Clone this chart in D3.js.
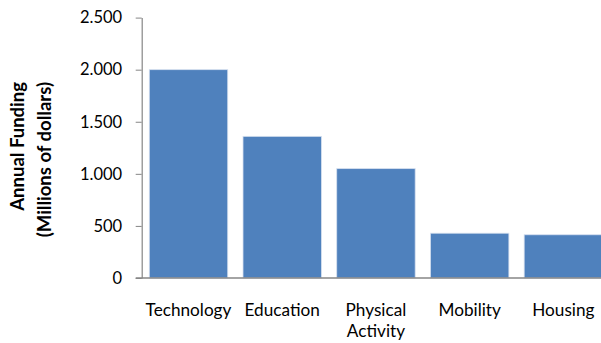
<!DOCTYPE html>
<html>
<head>
<meta charset="utf-8">
<script src="https://cdn.jsdelivr.net/npm/d3@7"></script>
<style>
  html, body { margin: 0; padding: 0; background: #fff; }
  svg { display: block; }
  text { font-family: Lato, "Open Sans", sans-serif; fill: #000; }
</style>
</head>
<body>
<svg id="chart" width="601" height="343"></svg>
<script>
// Annual funding by program area (millions of dollars)
const categories = ["Technology", "Education", "Physical Activity", "Mobility", "Housing"];
const funding = [2000, 1360, 1050, 430, 415];
const yTicks = [0, 500, 1000, 1500, 2000, 2500];

const svg = d3.select("#chart");
const plotLeft = 141.7, plotRight = 610.2, plotTop = 17.6, plotBottom = 278;

const x = d3.scaleBand()
  .domain(categories)
  .range([plotLeft, plotRight])
  .paddingInner(0.163)
  .paddingOuter(0.081);

const y = d3.scaleLinear().domain([0, 2500]).range([plotBottom, plotTop]);

const fmt = d3.formatLocale({ decimal: ",", thousands: ".", grouping: [3], currency: ["", ""] }).format(",d");

// bars
svg.append("g").selectAll("rect")
  .data(categories)
  .join("rect")
  .attr("x", d => x(d))
  .attr("width", x.bandwidth())
  .attr("y", (d, i) => y(funding[i]))
  .attr("height", (d, i) => plotBottom - y(funding[i]))
  .attr("fill", "#4F81BD")
  .attr("stroke", "#d6e0ef")
  .attr("stroke-width", 0.8);

// y axis
const yAxis = svg.append("g")
  .attr("transform", `translate(${plotLeft},0)`)
  .call(d3.axisLeft(y).tickValues(yTicks).tickFormat(fmt).tickSize(6).tickSizeOuter(0));
yAxis.select(".domain").attr("stroke", "#868686").attr("stroke-width", 1.2);
yAxis.selectAll(".tick line").attr("stroke", "#868686");
yAxis.selectAll(".tick text")
  .attr("x", -19.5)
  .attr("font-size", 16.5)
  .attr("font-family", "Lato, 'Open Sans', sans-serif")
  .attr("fill", "#000");

// x axis line
svg.append("line")
  .attr("x1", plotLeft - 6).attr("x2", 601)
  .attr("y1", plotBottom).attr("y2", plotBottom)
  .attr("stroke", "#868686").attr("stroke-width", 1.4);

// category labels; the two-word label wraps onto two lines
const labelG = svg.append("g");
categories.forEach(c => {
  const lines = c === "Physical Activity" ? ["Physical", "Activity"] : [c];
  const t = labelG.append("text")
    .attr("x", x(c) + x.bandwidth() / 2)
    .attr("y", 316)
    .attr("text-anchor", "middle")
    .attr("font-size", 17.2);
  lines.forEach((l, i) => {
    t.append("tspan")
      .attr("x", x(c) + x.bandwidth() / 2)
      .attr("dy", i === 0 ? 0 : 21)
      .text(l);
  });
});

// y axis title, both lines ending at the same height
const title = svg.append("text")
  .attr("transform", "translate(24,82) rotate(-90)")
  .attr("text-anchor", "end")
  .attr("font-size", 18.5)
  .attr("font-weight", "bold");
title.append("tspan").attr("x", 0).attr("dy", 0).text("Annual Funding");
title.append("tspan").attr("x", 0).attr("dy", 27).text("(Millions of dollars)");
</script>
</body>
</html>
